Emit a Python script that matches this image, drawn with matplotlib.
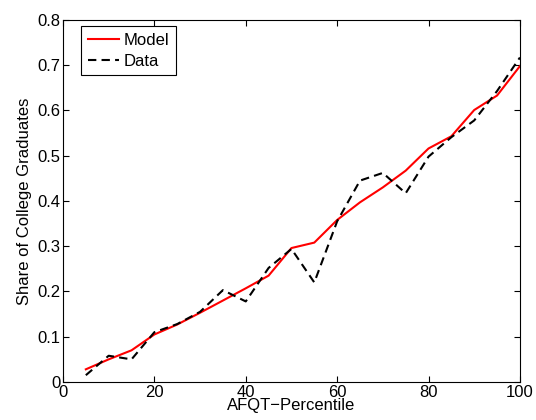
import numpy as np
import matplotlib
matplotlib.use("Agg")
import matplotlib.pyplot as plt

plt.rcParams['font.family'] = ['Liberation Sans', 'DejaVu Sans']
plt.rcParams['font.size'] = 12

# AFQT percentile bins
percentile = [5, 10, 15, 20, 25, 30, 35, 40, 45, 50,
              55, 60, 65, 70, 75, 80, 85, 90, 95, 100]

# share of college graduates, model vs data
model = [0.028, 0.050, 0.070, 0.105, 0.127, 0.153, 0.180, 0.207, 0.235, 0.296,
         0.308, 0.358, 0.397, 0.430, 0.467, 0.516, 0.543, 0.601, 0.633, 0.698]
data = [0.015, 0.058, 0.050, 0.110, 0.128, 0.155, 0.203, 0.178, 0.252, 0.294,
        0.220, 0.355, 0.445, 0.462, 0.417, 0.498, 0.541, 0.578, 0.643, 0.717]

xticks = [0, 20, 40, 60, 80, 100]
yticks = [0, 0.1, 0.2, 0.3, 0.4, 0.5, 0.6, 0.7, 0.8]

fig = plt.figure(figsize=(5.36, 4.2), dpi=100)
ax = fig.add_axes([0.1175, 0.0905, 0.8525, 0.862])

ax.plot(percentile, model, color='red', lw=1.5, label='Model')
ax.plot(percentile, data, color='black', lw=1.5, dashes=(4, 2.5), label='Data')

ax.set_xlim(0, 100)
ax.set_ylim(0, 0.8)
ax.set_xticks(xticks)
ax.set_yticks(yticks)
ax.set_yticklabels(['0', '0.1', '0.2', '0.3', '0.4', '0.5', '0.6', '0.7', '0.8'])
ax.tick_params(direction='in', top=True, right=True, length=4, width=0.8,
               labelsize=12, pad=2)
for s in ax.spines.values():
    s.set_linewidth(0.8)

ax.set_xlabel('AFQT\u2212Percentile', labelpad=-1)
ax.set_ylabel('Share of College Graduates', labelpad=4)

leg = ax.legend(loc='upper left', bbox_to_anchor=(0.04, 0.983), fancybox=False,
                edgecolor='black', framealpha=1, handlelength=1.85,
                handletextpad=0.3, borderpad=0.4, labelspacing=0.35,
                borderaxespad=0)
leg.get_frame().set_linewidth(0.8)

fig.savefig('out.png', dpi=100)
